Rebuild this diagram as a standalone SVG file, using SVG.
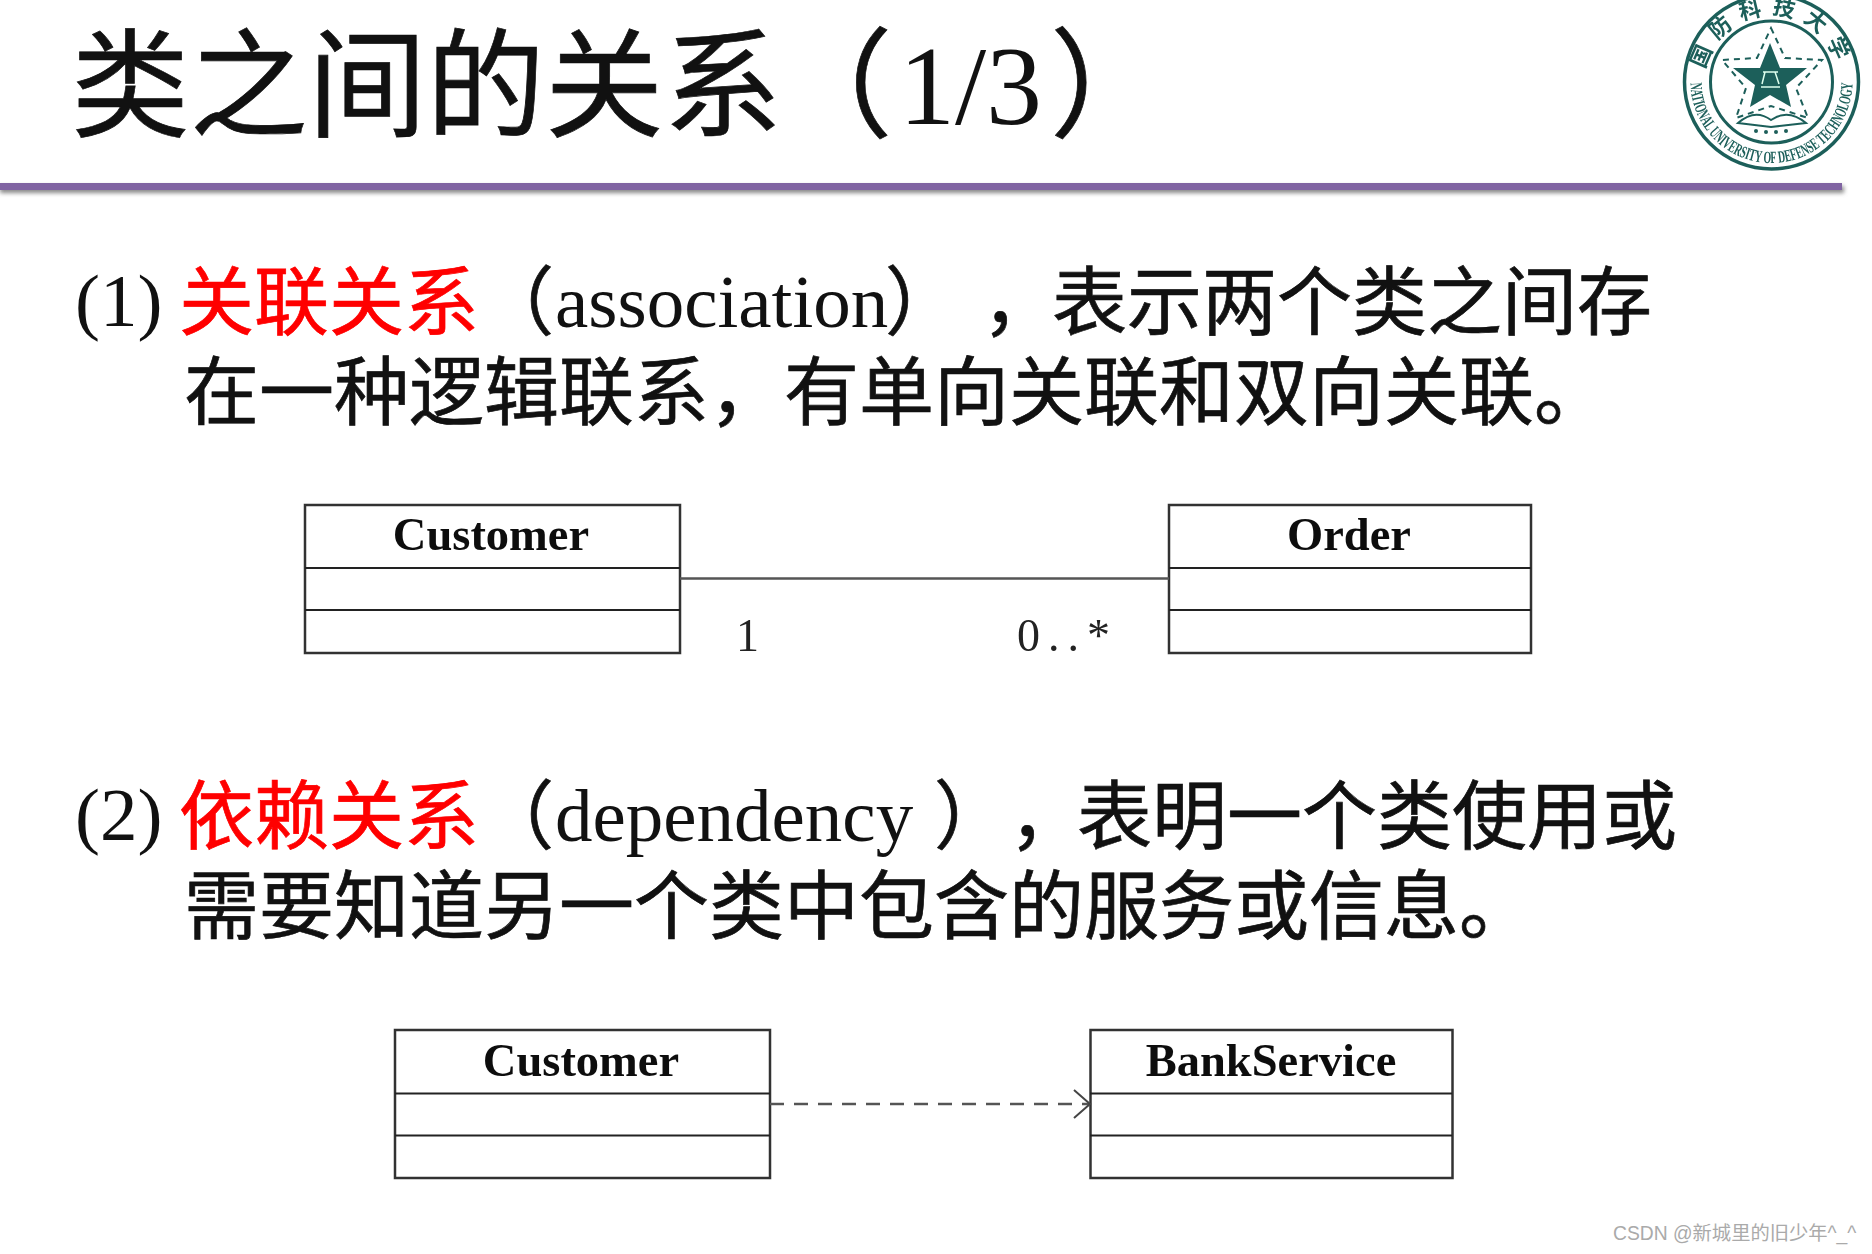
<svg xmlns="http://www.w3.org/2000/svg" width="1872" height="1254" viewBox="0 0 1872 1254">
<style>
.t{font-family:"Noto Sans CJK SC","Liberation Sans",sans-serif;fill:#111;stroke:#111;stroke-width:.7}
.l{font-family:"Liberation Serif","Noto Sans CJK SC",serif;fill:#111}
.h{font-size:118.500px}
.b{font-size:75px}
.lat{font-size:75px}
.red{fill:#f00;stroke:#f00}
.box{fill:#fff;stroke:#333;stroke-width:2.5}
.div{stroke:#222;stroke-width:2.2}
.cn{font-family:"Liberation Serif",serif;font-weight:bold;font-size:46.500px;text-anchor:middle;fill:#111}
.m{font-family:"Liberation Serif",serif;font-size:46px;fill:#222}
.c{stroke:#555;stroke-width:2.5;fill:none}
.lg{fill:none;stroke:#1d5f5a}
.lt{fill:#1d5f5a;font-family:"Liberation Serif","Noto Sans CJK SC",serif;font-weight:bold}
.soft{filter:url(#soft)}
</style>
<defs>
<marker id="open" markerWidth="22" markerHeight="30" refX="20" refY="15" orient="auto" markerUnits="userSpaceOnUse"><path d="M4 1 L20 15 L4 29" fill="none" stroke="#444" stroke-width="2"/></marker>
<path id="cnTop" d="M1704.500 82 A67 67 0 0 1 1838.500 82"/>
<path id="enBot" d="M1690.500 82 A81 81 0 0 0 1852.500 82"/>
<filter id="sh" x="-2%" y="-100%" width="104%" height="400%"><feGaussianBlur stdDeviation="2"/></filter>
<filter id="soft" x="-5%" y="-5%" width="110%" height="110%"><feGaussianBlur stdDeviation="0.7"/></filter>
</defs>
<rect width="1872" height="1254" fill="#fff"/>

<g id="title">
<text class="t h" x="71" y="128">类之间的关系</text>
<text class="t h" x="774" y="128">（</text>
<text class="l" x="899" y="124" font-size="112">1/3</text>
<text class="t h" x="1050" y="128">）</text>
</g>
<g id="logo" class="soft">
<circle class="lg" cx="1771.500" cy="82" r="87" stroke-width="3.500"/>
<circle class="lg" cx="1771.500" cy="82" r="61" stroke-width="3"/>
<text class="lt" font-size="22"><textPath href="#cnTop" startOffset="50%" text-anchor="middle" letter-spacing="9">国防科技大学</textPath></text>
<text class="lt" font-size="17"><textPath href="#enBot" startOffset="50%" text-anchor="middle" textLength="252" lengthAdjust="spacingAndGlyphs">NATIONAL UNIVERSITY OF DEFENSE TECHNOLOGY</textPath></text>
<path d="M1770 43 L1780 68 L1807 68 L1786 85 L1791 107 L1770 95 L1750 107 L1755 85 L1733 68 L1760 68 Z" fill="#1d5f5a"/>
<path d="M1763 72 H1778 M1765 72 L1762 84 M1775 72 L1779 84 M1761 87 H1780" fill="none" stroke="#dfe" stroke-width="1.500"/>
<path class="lg" d="M1771 28 L1785 58 L1822 60 L1796 88 L1808 118 L1771 106 L1736 118 L1746 88 L1722 60 L1757 58 Z" stroke-width="2" stroke-dasharray="6 5"/>
<path class="lg" d="M1738 123 Q1755 108 1771 120 Q1788 108 1806 123 L1771 127 Z" stroke-width="2"/>
<g fill="#1d5f5a"><circle cx="1756" cy="131" r="2"/><circle cx="1766" cy="132" r="2"/><circle cx="1776" cy="132" r="2"/><circle cx="1786" cy="131" r="2"/></g>
</g>
<g id="rule">
<rect x="0" y="186" width="1844" height="7" fill="#888" filter="url(#sh)"/>
<rect x="0" y="183" width="1842" height="7" fill="#8064a2"/>
</g>

<g id="para1">
<text class="l lat" x="75" y="326">(1)</text>
<text class="t b red" x="179" y="329">关联关系</text>
<text class="t b" x="479" y="329">（</text>
<text class="l lat" x="555" y="327">association</text>
<text class="t b" x="885" y="329">）</text>
<text class="t b" x="982" y="329">，</text>
<text class="t b" x="1052" y="329">表示两个类之间存</text>
<text class="t b" x="184" y="419" font-size="74.800">在一种逻辑联系，有单向关联和双向关联。</text>
</g>
<g id="customer1" class="soft">
<rect class="box" x="305" y="505" width="375" height="148"/>
<line class="div" x1="305" y1="568" x2="680" y2="568"/>
<line class="div" x1="305" y1="610" x2="680" y2="610"/>
<text class="cn" x="491" y="550">Customer</text>
</g>
<g id="order" class="soft">
<rect class="box" x="1169" y="505" width="362" height="148"/>
<line class="div" x1="1169" y1="568" x2="1531" y2="568"/>
<line class="div" x1="1169" y1="610" x2="1531" y2="610"/>
<text class="cn" x="1349" y="550">Order</text>
</g>
<g id="para2">
<text class="l lat" x="75" y="840">(2)</text>
<text class="t b red" x="179" y="843">依赖关系</text>
<text class="t b" x="479" y="843">（</text>
<text class="l lat" x="555" y="841">dependency</text>
<text class="t b" x="934" y="843">）</text>
<text class="t b" x="1009" y="843">，</text>
<text class="t b" x="1077" y="843">表明一个类使用或</text>
<text class="t b" x="184" y="933">需要知道另一个类中包含的服务或信息。</text>
</g>
<g id="customer2" class="soft">
<rect class="box" x="395" y="1030" width="375" height="148"/>
<line class="div" x1="395" y1="1093.500" x2="770" y2="1093.500"/>
<line class="div" x1="395" y1="1135.500" x2="770" y2="1135.500"/>
<text class="cn" x="581" y="1076">Customer</text>
</g>
<g id="bankservice" class="soft">
<rect class="box" x="1090.500" y="1030" width="362" height="148"/>
<line class="div" x1="1090" y1="1093.500" x2="1452" y2="1093.500"/>
<line class="div" x1="1090" y1="1135.500" x2="1452" y2="1135.500"/>
<text class="cn" x="1271" y="1076">BankService</text>
</g>
<g id="connectors" class="soft">
<line class="c" x1="680" y1="578.500" x2="1169" y2="578.500"/>
<line class="c" x1="770" y1="1104" x2="1090" y2="1104" stroke-dasharray="14 10" marker-end="url(#open)"/>
</g>
<g id="labels" class="soft">
<text class="m" x="736" y="651">1</text>
<text class="m" x="1017" y="651" letter-spacing="8">0..*</text>
</g>
<text x="1613" y="1240" font-family="Liberation Sans,Noto Sans CJK SC,sans-serif" font-size="19.300" fill="#aaa">CSDN @新城里的旧少年^_^</text>
</svg>
